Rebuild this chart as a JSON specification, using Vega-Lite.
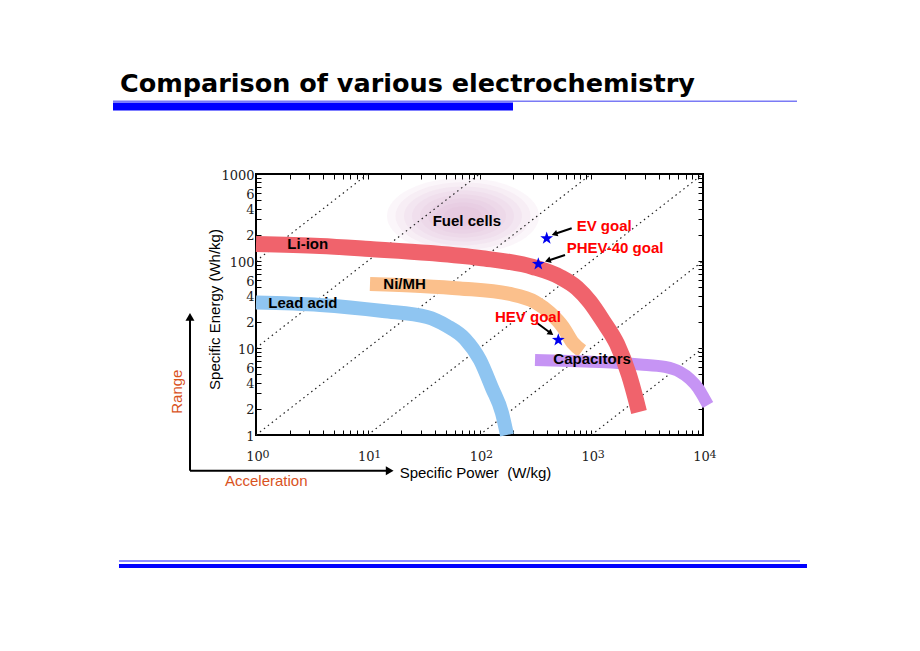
{
  "$schema": "https://vega.github.io/schema/vega-lite/v6.json",
  "width": 447,
  "height": 261,
  "autosize": {"type": "none"},
  "padding": {"left": 256, "top": 174, "right": 217, "bottom": 216},
  "background": "white",
  "config": {"view": {"stroke": "#000", "strokeWidth": 2}, "font": "Liberation Sans"},
  "resolve": {"axis": {"x": "independent", "y": "independent"}},
  "data": {"values": [
    {"g": "fuel", "x": 71.15, "y": 329},
    {"g": "dots", "t": "100 h", "x": 1, "y": 100}, {"g": "dots", "t": "100 h", "x": 10, "y": 1000},
    {"g": "dots", "t": "10 h", "x": 1, "y": 10}, {"g": "dots", "t": "10 h", "x": 100, "y": 1000},
    {"g": "dots", "t": "1 h", "x": 1, "y": 1}, {"g": "dots", "t": "1 h", "x": 1000, "y": 1000},
    {"g": "dots", "t": "0.1 h", "x": 10, "y": 1}, {"g": "dots", "t": "0.1 h", "x": 10000, "y": 1000},
    {"g": "dots", "t": "0.01 h", "x": 100, "y": 1}, {"g": "dots", "t": "0.01 h", "x": 10000, "y": 100},
    {"g": "dots", "t": "0.001 h", "x": 1000, "y": 1}, {"g": "dots", "t": "0.001 h", "x": 10000, "y": 10},
    {"g": "Lead acid", "x": 1.0, "y": 33.3}, {"g": "Lead acid", "x": 3.74, "y": 31.2}, {"g": "Lead acid", "x": 13.69, "y": 26.6},
    {"g": "Lead acid", "x": 33.9, "y": 22.7}, {"g": "Lead acid", "x": 51.2, "y": 17.9}, {"g": "Lead acid", "x": 74.2, "y": 12.7},
    {"g": "Lead acid", "x": 101, "y": 7.28}, {"g": "Lead acid", "x": 129.4, "y": 3.47}, {"g": "Lead acid", "x": 159, "y": 1.79},
    {"g": "Lead acid", "x": 176.3, "y": 1.0},
    {"g": "Ni/MH", "x": 10.47, "y": 54.4}, {"g": "Ni/MH", "x": 29.4, "y": 51.6}, {"g": "Ni/MH", "x": 66.9, "y": 48.3},
    {"g": "Ni/MH", "x": 187.5, "y": 41.8}, {"g": "Ni/MH", "x": 313.8, "y": 33.8}, {"g": "Ni/MH", "x": 427.3, "y": 25.3},
    {"g": "Ni/MH", "x": 558.7, "y": 17.4}, {"g": "Ni/MH", "x": 686.6, "y": 11.4}, {"g": "Ni/MH", "x": 826.6, "y": 9.24},
    {"g": "Capacitors", "x": 313.8, "y": 7.28}, {"g": "Capacitors", "x": 645.3, "y": 7.09}, {"g": "Capacitors", "x": 1198, "y": 6.9},
    {"g": "Capacitors", "x": 2731, "y": 6.46}, {"g": "Capacitors", "x": 4571, "y": 6.05}, {"g": "Capacitors", "x": 6227, "y": 5.3},
    {"g": "Capacitors", "x": 7650, "y": 4.4}, {"g": "Capacitors", "x": 9021, "y": 3.47}, {"g": "Capacitors", "x": 10206, "y": 2.66},
    {"g": "Capacitors", "x": 11084, "y": 2.21},
    {"g": "Li-ion", "x": 1.0, "y": 156.8}, {"g": "Li-ion", "x": 3.74, "y": 148.7}, {"g": "Li-ion", "x": 10.47, "y": 137.4},
    {"g": "Li-ion", "x": 36.06, "y": 123.6}, {"g": "Li-ion", "x": 101, "y": 108.3}, {"g": "Li-ion", "x": 301.1, "y": 85.3},
    {"g": "Li-ion", "x": 525.3, "y": 65.5}, {"g": "Li-ion", "x": 745.5, "y": 48.95}, {"g": "Li-ion", "x": 974.5, "y": 33.79},
    {"g": "Li-ion", "x": 1274, "y": 20.43}, {"g": "Li-ion", "x": 1700, "y": 11.12}, {"g": "Li-ion", "x": 2177, "y": 4.894},
    {"g": "Li-ion", "x": 2515, "y": 2.525}, {"g": "Li-ion", "x": 2675, "y": 1.838},
    {"g": "star", "label": "EV goal", "x": 399.3, "y": 182.3},
    {"g": "star", "label": "PHEV-40 goal", "x": 335.9, "y": 92.4},
    {"g": "star", "label": "HEV goal", "x": 507.3, "y": 12.36},
    {"g": "arrow", "t": "EV", "x": 668.5, "y": 237.6}, {"g": "arrow", "t": "EV", "x": 469.0, "y": 204.3},
    {"g": "arrow", "t": "PHEV-40", "x": 582.2, "y": 117.2}, {"g": "arrow", "t": "PHEV-40", "x": 408.5, "y": 100.8},
    {"g": "arrow", "t": "HEV", "x": 325.0, "y": 19.53}, {"g": "arrow", "t": "HEV", "x": 435.4, "y": 14.79},
    {"g": "headLeft", "x": 469.0, "y": 204.3},
    {"g": "headLeft", "x": 408.5, "y": 100.8},
    {"g": "headDown", "x": 435.4, "y": 14.79},
    {"g": "labelBlack", "label": "Fuel cells", "x": 38.13, "y": 254.5},
    {"g": "labelBlack", "label": "Li-ion", "x": 1.906, "y": 137.4},
    {"g": "labelBlack", "label": "Ni/MH", "x": 13.78, "y": 47.29},
    {"g": "labelBlack", "label": "Lead acid", "x": 1.288, "y": 28.6},
    {"g": "labelBlack", "label": "Capacitors", "x": 457.6, "y": 6.548},
    {"g": "labelRed", "label": "EV goal", "x": 740.9, "y": 221.2},
    {"g": "labelRed", "label": "PHEV-40 goal", "x": 603.0, "y": 122.6},
    {"g": "labelRed", "label": "HEV goal", "x": 137.6, "y": 20.06},
    {"g": "sup", "x": 1, "y": 0.5417, "label": "0"},
    {"g": "sup", "x": 10, "y": 0.5417, "label": "1"},
    {"g": "sup", "x": 100, "y": 0.5417, "label": "2"},
    {"g": "sup", "x": 1000, "y": 0.5417, "label": "3"},
    {"g": "sup", "x": 10000, "y": 0.5417, "label": "4"},
    {"g": "bigArrow", "x": 0.2566, "y": 0.3888, "x2": 0.2566, "y2": 22.72},
    {"g": "bigArrow", "x": 0.2566, "y": 0.3888, "x2": 15.72, "y2": 0.3888},
    {"g": "upHead", "x": 0.2566, "y": 22.72},
    {"g": "rightHead", "x": 15.72, "y": 0.3888},
    {"g": "range", "label": "Range", "x": 0.2177, "y": 3.146},
    {"g": "accel", "label": "Acceleration", "x": 0.528, "y": 0.2594},
    {"g": "heading", "label": "Comparison of various electrochemistry", "x": 0.0607, "y": 8760},
    {"g": "topThin", "x": 0.05253, "x2": 69370, "y": 6848},
    {"g": "topThick", "x": 0.05253, "x2": 199.4, "y": 5970},
    {"g": "botThin", "x": 0.05943, "x2": 73790, "y": 0.03561},
    {"g": "botThick", "x": 0.05943, "x2": 85220, "y": 0.0312}
  ]},
  "encoding": {
    "x": {"field": "x", "type": "quantitative", "scale": {"type": "log", "domain": [1, 10000], "nice": false}, "axis": null},
    "y": {"field": "y", "type": "quantitative", "scale": {"type": "log", "domain": [1, 1000], "nice": false}, "axis": null}
  },
  "layer": [
    {"transform": [{"filter": "datum.g == 'fuel'"}],
     "mark": {"type": "point", "filled": true, "color": "#dba4d2", "opacity": 0.1, "size": 23104, "shape": "M -1 0 C -1 -0.276 -0.552 -0.5 0 -0.5 C 0.552 -0.5 1 -0.276 1 0 C 1 0.276 0.552 0.5 0 0.5 C -0.552 0.5 -1 0.276 -1 0 Z"},
     "encoding": {
      "x": {"field": "x", "type": "quantitative", "scale": {"type": "log", "domain": [1, 10000], "nice": false},
        "axis": {"orient": "bottom", "values": [1,2,3,4,5,6,7,8,9,10,20,30,40,50,60,70,80,90,100,200,300,400,500,600,700,800,900,1000,2000,3000,4000,5000,6000,7000,8000,9000,10000],
          "format": "d", "labelExpr": "slice(datum.label,0,1) == '1' ? '10' : ''",
          "grid": false, "domain": false, "tickSize": -5, "tickColor": "#000", "tickWidth": 1,
          "labelFont": "DejaVu Serif", "labelFontSize": 13, "labelColor": "#222", "labelPadding": 30, "labelBaseline": "alphabetic",
          "labelOffset": -2, "labelFlush": false, "labelOverlap": false, "labelBound": false,
          "title": "Specific Power \u00a0(W/kg)", "titleFont": "Liberation Sans", "titleFontSize": 15, "titleFontWeight": "normal", "titleColor": "#000",
          "titleX": 219, "titleY": 42, "titleAlign": "center", "titleBaseline": "alphabetic"}},
      "y": {"field": "y", "type": "quantitative", "scale": {"type": "log", "domain": [1, 1000], "nice": false},
        "axis": {"orient": "left", "values": [1,2,3,4,5,6,7,8,9,10,20,30,40,50,60,70,80,90,100,200,300,400,500,600,700,800,900,1000],
          "format": "d", "labelExpr": "slice(datum.label,0,1) == '1' ? datum.label : (indexof('246', slice(datum.label,0,1)) >= 0 ? slice(datum.label,0,1) : '')",
          "grid": false, "domain": false, "tickSize": -5, "tickColor": "#000", "tickWidth": 1,
          "labelFont": "DejaVu Serif", "labelFontSize": 13, "labelColor": "#222", "labelPadding": 7, "labelBaseline": "middle", "labelAlign": "right",
          "labelOffset": 1, "labelFlush": false, "labelOverlap": false, "labelBound": false,
          "title": "Specific Energy (Wh/kg)", "titleFont": "Liberation Sans", "titleFontSize": 15, "titleFontWeight": "normal", "titleColor": "#000",
          "titleX": -37, "titleY": 135, "titleAngle": 270, "titleAlign": "center", "titleBaseline": "alphabetic"}}
     }},
    {"transform": [{"filter": "datum.g == 'fuel'"}],
     "mark": {"type": "point", "filled": true, "color": "#dba4d2", "opacity": 0.1, "size": 18225, "shape": "M -1 0 C -1 -0.276 -0.552 -0.5 0 -0.5 C 0.552 -0.5 1 -0.276 1 0 C 1 0.276 0.552 0.5 0 0.5 C -0.552 0.5 -1 0.276 -1 0 Z"}},
    {"transform": [{"filter": "datum.g == 'fuel'"}],
     "mark": {"type": "point", "filled": true, "color": "#dba4d2", "opacity": 0.1, "size": 13924, "shape": "M -1 0 C -1 -0.276 -0.552 -0.5 0 -0.5 C 0.552 -0.5 1 -0.276 1 0 C 1 0.276 0.552 0.5 0 0.5 C -0.552 0.5 -1 0.276 -1 0 Z"}},
    {"transform": [{"filter": "datum.g == 'fuel'"}],
     "mark": {"type": "point", "filled": true, "color": "#dba4d2", "opacity": 0.1, "size": 10404, "shape": "M -1 0 C -1 -0.276 -0.552 -0.5 0 -0.5 C 0.552 -0.5 1 -0.276 1 0 C 1 0.276 0.552 0.5 0 0.5 C -0.552 0.5 -1 0.276 -1 0 Z"}},
    {"transform": [{"filter": "datum.g == 'fuel'"}],
     "mark": {"type": "point", "filled": true, "color": "#dba4d2", "opacity": 0.1, "size": 7396, "shape": "M -1 0 C -1 -0.276 -0.552 -0.5 0 -0.5 C 0.552 -0.5 1 -0.276 1 0 C 1 0.276 0.552 0.5 0 0.5 C -0.552 0.5 -1 0.276 -1 0 Z"}},
    {"transform": [{"filter": "datum.g == 'fuel'"}],
     "mark": {"type": "point", "filled": true, "color": "#dba4d2", "opacity": 0.1, "size": 4900, "shape": "M -1 0 C -1 -0.276 -0.552 -0.5 0 -0.5 C 0.552 -0.5 1 -0.276 1 0 C 1 0.276 0.552 0.5 0 0.5 C -0.552 0.5 -1 0.276 -1 0 Z"}},
    {"transform": [{"filter": "datum.g == 'fuel'"}],
     "mark": {"type": "point", "filled": true, "color": "#dba4d2", "opacity": 0.1, "size": 2916, "shape": "M -1 0 C -1 -0.276 -0.552 -0.5 0 -0.5 C 0.552 -0.5 1 -0.276 1 0 C 1 0.276 0.552 0.5 0 0.5 C -0.552 0.5 -1 0.276 -1 0 Z"}},
    {"transform": [{"filter": "datum.g == 'fuel'"}],
     "mark": {"type": "point", "filled": true, "color": "#dba4d2", "opacity": 0.1, "size": 1444, "shape": "M -1 0 C -1 -0.276 -0.552 -0.5 0 -0.5 C 0.552 -0.5 1 -0.276 1 0 C 1 0.276 0.552 0.5 0 0.5 C -0.552 0.5 -1 0.276 -1 0 Z"}},
    {"transform": [{"filter": "datum.g == 'dots'"}],
     "mark": {"type": "line", "color": "#222", "strokeWidth": 1.2, "strokeDash": [1.5, 3.5]},
     "encoding": {"detail": {"field": "t", "type": "nominal"}}},
    {"transform": [{"filter": "datum.g == 'Lead acid'"}],
     "mark": {"type": "line", "color": "#8fc5f1", "strokeWidth": 14, "strokeCap": "butt", "strokeJoin": "round", "interpolate": "monotone"},
     "encoding": {}},
    {"transform": [{"filter": "datum.g == 'Ni/MH'"}],
     "mark": {"type": "line", "color": "#fbc08c", "strokeWidth": 14, "strokeCap": "butt", "strokeJoin": "round", "interpolate": "monotone"},
     "encoding": {}},
    {"transform": [{"filter": "datum.g == 'Capacitors'"}],
     "mark": {"type": "line", "color": "#c694f4", "strokeWidth": 12, "strokeCap": "butt", "strokeJoin": "round", "interpolate": "monotone"},
     "encoding": {}},
    {"transform": [{"filter": "datum.g == 'Li-ion'"}],
     "mark": {"type": "line", "color": "#f0636c", "strokeWidth": 16, "strokeCap": "butt", "strokeJoin": "round", "interpolate": "monotone"},
     "encoding": {
      "x": {"field": "x", "type": "quantitative", "scale": {"type": "log", "domain": [1, 10000], "nice": false},
        "axis": {"orient": "top", "values": [1,2,3,4,5,6,7,8,9,10,20,30,40,50,60,70,80,90,100,200,300,400,500,600,700,800,900,1000,2000,3000,4000,5000,6000,7000,8000,9000,10000],
          "labels": false, "grid": false, "domain": false, "tickSize": -5, "tickColor": "#000", "tickWidth": 1, "title": null}},
      "y": {"field": "y", "type": "quantitative", "scale": {"type": "log", "domain": [1, 1000], "nice": false},
        "axis": {"orient": "right", "values": [1,2,3,4,5,6,7,8,9,10,20,30,40,50,60,70,80,90,100,200,300,400,500,600,700,800,900,1000],
          "labels": false, "grid": false, "domain": false, "tickSize": -5, "tickColor": "#000", "tickWidth": 1, "title": null}}
     }},
    {"transform": [{"filter": "datum.g == 'star'"}],
     "mark": {"type": "point", "shape": "M 0 -1 L 0.2351 -0.3236 L 0.9511 -0.309 L 0.3804 0.1236 L 0.5878 0.809 L 0 0.4 L -0.5878 0.809 L -0.3804 0.1236 L -0.9511 -0.309 L -0.2351 -0.3236 Z", "filled": true, "color": "#0000ee", "opacity": 1, "size": 180}},
    {"transform": [{"filter": "datum.g == 'arrow'"}],
     "mark": {"type": "line", "color": "#000", "strokeWidth": 2},
     "encoding": {"detail": {"field": "t", "type": "nominal"}}},
    {"transform": [{"filter": "datum.g == 'headLeft'"}],
     "mark": {"type": "point", "shape": "triangle-right", "filled": true, "color": "#000", "opacity": 1, "size": 45, "angle": 161.5}},
    {"transform": [{"filter": "datum.g == 'headDown'"}],
     "mark": {"type": "point", "shape": "triangle-right", "filled": true, "color": "#000", "opacity": 1, "size": 45, "angle": 36.5}},
    {"transform": [{"filter": "datum.g == 'labelBlack'"}],
     "mark": {"type": "text", "font": "Liberation Sans", "fontSize": 15, "fontWeight": "bold", "color": "#000", "align": "left", "baseline": "alphabetic"},
     "encoding": {"text": {"field": "label", "type": "nominal"}}},
    {"transform": [{"filter": "datum.g == 'labelRed'"}],
     "mark": {"type": "text", "font": "Liberation Sans", "fontSize": 15, "fontWeight": "bold", "color": "#ff0000", "align": "left", "baseline": "alphabetic"},
     "encoding": {"text": {"field": "label", "type": "nominal"}}},
    {"transform": [{"filter": "datum.g == 'sup'"}],
     "mark": {"type": "text", "font": "DejaVu Serif", "fontSize": 11, "color": "#222", "align": "left", "baseline": "alphabetic", "dx": 6.5},
     "encoding": {"text": {"field": "label", "type": "nominal"}}},
    {"transform": [{"filter": "datum.g == 'bigArrow'"}],
     "mark": {"type": "rule", "color": "#000", "strokeWidth": 2},
     "encoding": {"x2": {"field": "x2"}, "y2": {"field": "y2"}}},
    {"transform": [{"filter": "datum.g == 'upHead'"}],
     "mark": {"type": "point", "shape": "triangle-up", "filled": true, "color": "#000", "opacity": 1, "size": 80}},
    {"transform": [{"filter": "datum.g == 'rightHead'"}],
     "mark": {"type": "point", "shape": "triangle-right", "filled": true, "color": "#000", "opacity": 1, "size": 80}},
    {"transform": [{"filter": "datum.g == 'range'"}],
     "mark": {"type": "text", "font": "Liberation Sans", "fontSize": 15, "color": "#d9531e", "align": "center", "baseline": "alphabetic", "angle": 270},
     "encoding": {"text": {"field": "label", "type": "nominal"}}},
    {"transform": [{"filter": "datum.g == 'accel'"}],
     "mark": {"type": "text", "font": "Liberation Sans", "fontSize": 15, "color": "#d9531e", "align": "left", "baseline": "alphabetic"},
     "encoding": {"text": {"field": "label", "type": "nominal"}}},
    {"transform": [{"filter": "datum.g == 'heading'"}],
     "mark": {"type": "text", "font": "DejaVu Sans", "fontSize": 25.5, "fontWeight": "bold", "color": "#000", "align": "left", "baseline": "alphabetic"},
     "encoding": {"text": {"field": "label", "type": "nominal"}}},
    {"transform": [{"filter": "datum.g == 'topThin'"}],
     "mark": {"type": "rule", "color": "#7a7af5", "strokeWidth": 1.5},
     "encoding": {"x2": {"field": "x2"}}},
    {"transform": [{"filter": "datum.g == 'topThick'"}],
     "mark": {"type": "rule", "color": "#0000ff", "strokeWidth": 8},
     "encoding": {"x2": {"field": "x2"}}},
    {"transform": [{"filter": "datum.g == 'botThin'"}],
     "mark": {"type": "rule", "color": "#6666ff", "strokeWidth": 1.5},
     "encoding": {"x2": {"field": "x2"}}},
    {"transform": [{"filter": "datum.g == 'botThick'"}],
     "mark": {"type": "rule", "color": "#0000ff", "strokeWidth": 4},
     "encoding": {"x2": {"field": "x2"}}}
  ]
}
